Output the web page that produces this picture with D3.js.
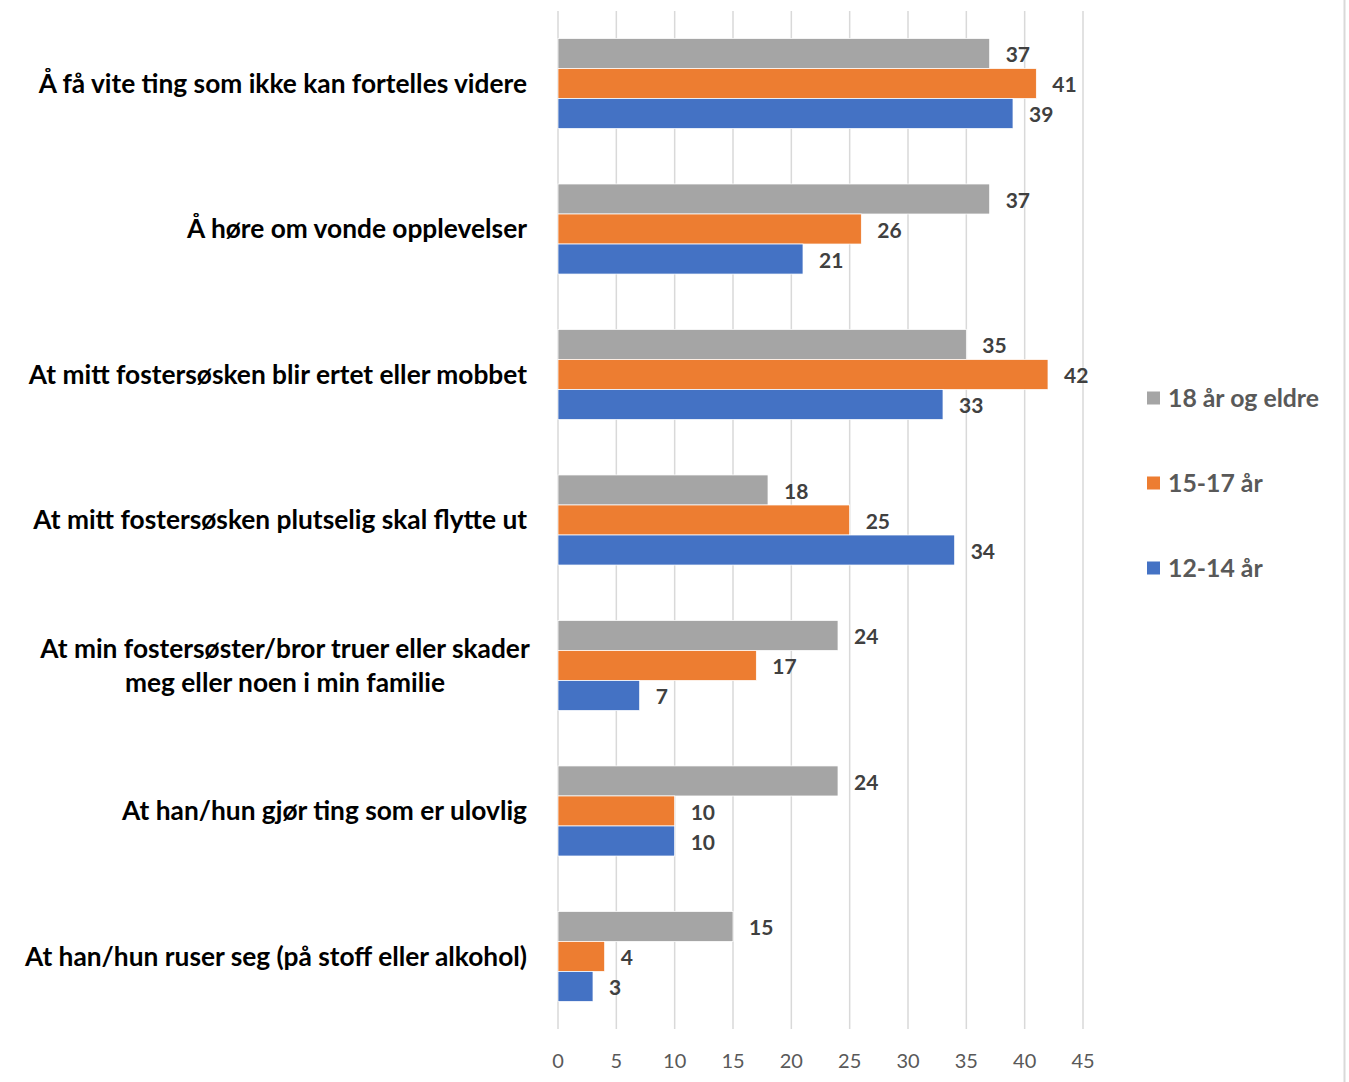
<!DOCTYPE html>
<html>
<head>
<meta charset="utf-8">
<script src="https://cdn.jsdelivr.net/npm/d3@7"></script>
<style>
html,body{margin:0;padding:0;background:#fff;}
svg{display:block;}
</style>
</head>
<body>
<svg id="chart" width="1349" height="1082"></svg>
<script>
const categories = [
  "Å få vite ting som ikke kan fortelles videre",
  "Å høre om vonde opplevelser",
  "At mitt fostersøsken blir ertet eller mobbet",
  "At mitt fostersøsken plutselig skal flytte ut",
  "At min fostersøster/bror truer eller skader\nmeg eller noen i min familie",
  "At han/hun gjør ting som er ulovlig",
  "At han/hun ruser seg (på stoff eller alkohol)"
];
const seriesNames = ["18 år og eldre", "15-17 år", "12-14 år"];
const seriesColors = ["#A5A5A5", "#ED7D31", "#4472C4"];
const values18 = [37, 37, 35, 18, 24, 24, 15];
const values15 = [41, 26, 42, 25, 17, 10, 4];
const values12 = [39, 21, 33, 34, 7, 10, 3];
const xTicks = [0, 5, 10, 15, 20, 25, 30, 35, 40, 45];

const seriesValues = [values18, values15, values12];
const svg = d3.select("#chart");
const font = "Lato, 'Open Sans', sans-serif";

const x = d3.scaleLinear().domain([0, 45]).range([558, 1083]);
const y = d3.scaleBand().domain(categories).range([11, 1029]).paddingInner(0.381).paddingOuter(0.189);
const ys = d3.scaleBand().domain(seriesNames).range([0, y.bandwidth()]);

// right border line
svg.append("line").attr("x1", 1344.5).attr("x2", 1344.5).attr("y1", 0).attr("y2", 1082)
  .attr("stroke", "#d9d9d9").attr("stroke-width", 2);

// gridlines
svg.append("g").selectAll("line").data(xTicks).join("line")
  .attr("x1", d => x(d)).attr("x2", d => x(d))
  .attr("y1", 11).attr("y2", 1029)
  .attr("stroke", "#d9d9d9").attr("stroke-width", 1.5);

// tick labels
svg.append("g").selectAll("text").data(xTicks).join("text")
  .attr("x", d => x(d)).attr("y", 1068)
  .attr("text-anchor", "middle")
  .attr("font-family", font).attr("font-size", 20)
  .attr("fill", "#595959")
  .text(d => d);

// bars
const groups = svg.append("g").selectAll("g").data(categories).join("g")
  .attr("transform", d => `translate(0,${y(d)})`);

seriesNames.forEach((s, si) => {
  groups.append("rect")
    .attr("x", x(0))
    .attr("y", ys(s))
    .attr("width", (d, i) => x(seriesValues[si][i]) - x(0))
    .attr("height", ys.bandwidth())
    .attr("fill", seriesColors[si])
    .attr("stroke", "#fff").attr("stroke-width", 0.75);
  groups.append("text")
    .attr("x", (d, i) => x(seriesValues[si][i]) + 16)
    .attr("y", ys(s) + ys.bandwidth() / 2 + 1)
    .attr("dy", "0.36em")
    .attr("font-family", font).attr("font-size", 21).attr("font-weight", "bold")
    .attr("fill", "#404040")
    .text((d, i) => seriesValues[si][i]);
});

// category labels
categories.forEach(c => {
  const lines = c.split("\n");
  const cy = y(c) + y.bandwidth() / 2;
  const lh = 34;
  const t = svg.append("text")
    .attr("font-family", font).attr("font-size", 26.3).attr("font-weight", "bold")
    .attr("fill", "#000");
  if (lines.length === 1) {
    t.attr("x", 527).attr("y", cy).attr("dy", "0.36em").attr("text-anchor", "end").text(c);
  } else {
    lines.forEach((ln, i) => {
      t.append("tspan").attr("x", 285).attr("text-anchor", "middle")
        .attr("y", cy + (i - (lines.length - 1) / 2) * lh).attr("dy", "0.36em").text(ln);
    });
  }
});

// legend
const legY = [398, 483, 568];
seriesNames.forEach((s, i) => {
  svg.append("rect").attr("x", 1147).attr("y", legY[i] - 6.5).attr("width", 13).attr("height", 13)
    .attr("fill", seriesColors[i]);
  svg.append("text").attr("x", 1168).attr("y", legY[i]).attr("dy", "0.36em")
    .attr("font-family", font).attr("font-size", 24.8).attr("font-weight", "bold")
    .attr("fill", "#595959").text(s);
});
</script>
</body>
</html>
